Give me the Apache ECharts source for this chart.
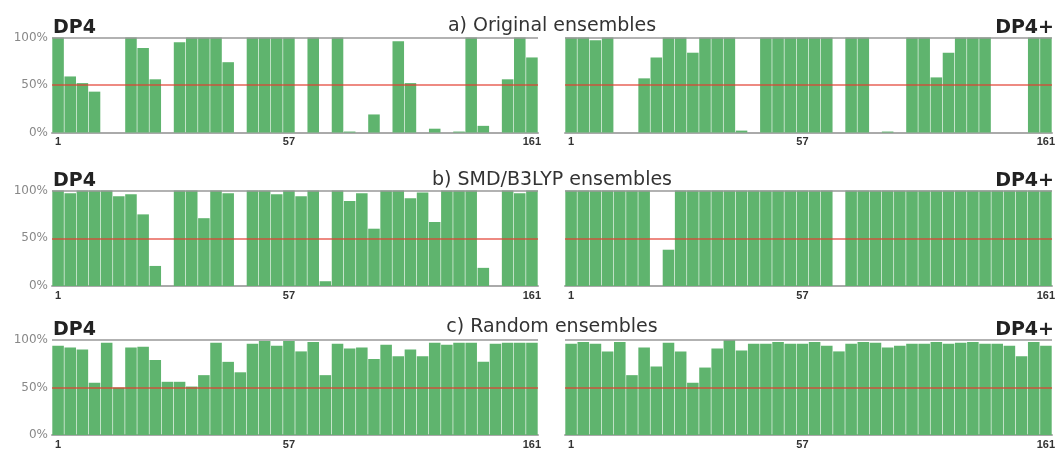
<!DOCTYPE html>
<html><head><meta charset="utf-8">
<script src="https://cdn.jsdelivr.net/npm/echarts@6/dist/echarts.min.js"></script>
<style>html,body{margin:0;padding:0;background:#fff}#c{width:1059px;height:450px}</style>
</head><body><div id="c"></div>
<script>
// ---- data ----
const slots = Array.from({length: 40}, (_, i) => 'slot' + (i + 1));
const tickLabels = ['1', '57', '161'];
const tickSlots = [0, 19, 39];
const panelTitles = ['a) Original ensembles', 'b) SMD/B3LYP ensembles', 'c) Random ensembles'];
const methodLabels = ['DP4', 'DP4+'];

const origDP4 = [100,59,52,43,0,0,100,89,56,0,95,100,100,100,74,0,100,100,100,100,
                 0,100,0,100,1,0,19,0,96,52,0,4,0,1,100,7,0,56,100,79];
const origDP4plus = [100,100,97,100,0,0,57,79,100,100,84,100,100,100,2,0,100,100,100,100,
                     100,100,0,100,100,0,1,0,100,100,58,84,100,100,100,0,0,0,100,100];
const smdDP4 = [100,97,100,100,100,94,96,75,21,0,100,100,71,100,97,0,100,100,96,100,
                94,100,5,100,89,97,60,100,100,92,98,67,100,100,100,19,0,100,97,100];
const smdDP4plus = [100,100,100,100,100,100,100,0,38,100,100,100,100,100,100,100,100,100,100,100,
                    100,100,0,100,100,100,100,100,100,100,100,100,100,100,100,100,100,100,100,100];
const randDP4 = [94,92,90,55,97,50,92,93,79,56,56,51,63,97,77,66,96,99,94,99,
                 88,98,63,96,91,92,80,95,83,90,83,97,95,97,97,77,96,97,97,97];
const randDP4plus = [96,98,96,88,98,63,92,72,97,88,55,71,91,100,89,96,96,98,96,96,
                     98,94,88,96,98,97,92,94,96,96,98,96,97,98,96,96,94,83,98,94];

const panels = [[origDP4, origDP4plus], [smdDP4, smdDP4plus], [randDP4, randDP4plus]];

// ---- layout ----
const gLeft = [52, 565], gWidth = [486, 487];
const gTop = [37.5, 190.5, 340], gHeight = [95, 95.5, 96];
const titleY = [26, 180, 327];
const methodY = [28, 181, 330];

const grids = [], xAxes = [], yAxes = [], series = [], graphics = [];
let k = 0;
for (let r = 0; r < 3; r++) {
  for (let c = 0; c < 2; c++) {
    grids.push({left: gLeft[c], width: gWidth[c], top: gTop[r], height: gHeight[r], containLabel: false});
    xAxes.push({
      type: 'category', gridIndex: k, data: slots,
      axisLine: {lineStyle: {color: '#aaa', width: 2}},
      axisTick: {show: false},
      axisLabel: {
        interval: 0, margin: 4, color: '#333', fontSize: 11, fontWeight: 'bold',
        fontFamily: 'Liberation Sans',
        formatter: (v, i) => { const j = tickSlots.indexOf(i); return j >= 0 ? tickLabels[j] : ''; }
      }
    });
    yAxes.push({
      type: 'value', gridIndex: k, min: 0, max: 100, interval: 50,
      axisLine: {show: false}, axisTick: {show: false}, splitLine: {show: false},
      axisLabel: {show: c === 0, formatter: v => v + '%', color: '#888', fontSize: 12, margin: 4,
                  fontFamily: 'DejaVu Sans', padding: [4, 0, 0, 0]}
    });
    series.push({
      type: 'bar', xAxisIndex: k, yAxisIndex: k, data: panels[r][c],
      barCategoryGap: '5%',
      itemStyle: {color: '#5fb46e'},
      markLine: {
        silent: true, symbol: 'none', label: {show: false},
        data: [
          {yAxis: 50, lineStyle: {color: 'rgba(226,60,46,0.6)', width: 2, type: 'solid'}},
          {yAxis: 100, lineStyle: {color: '#999', width: 1.5, type: 'solid'}}
        ]
      }
    });
    k++;
  }
  graphics.push({type: 'text', x: 552, y: titleY[r],
    style: {text: panelTitles[r], fill: '#333', font: '19px "DejaVu Sans"', textAlign: 'center', textVerticalAlign: 'middle'}});
  graphics.push({type: 'text', x: 53, y: methodY[r],
    style: {text: methodLabels[0], fill: '#222', font: 'bold 19px "DejaVu Sans"', textAlign: 'left', textVerticalAlign: 'middle'}});
  graphics.push({type: 'text', x: 1054, y: methodY[r],
    style: {text: methodLabels[1], fill: '#222', font: 'bold 19px "DejaVu Sans"', textAlign: 'right', textVerticalAlign: 'middle'}});
}

const chart = echarts.init(document.getElementById('c'));
chart.setOption({
  animation: false,
  backgroundColor: '#fff',
  grid: grids, xAxis: xAxes, yAxis: yAxes, series: series,
  graphic: graphics
});
</script>
</body></html>
